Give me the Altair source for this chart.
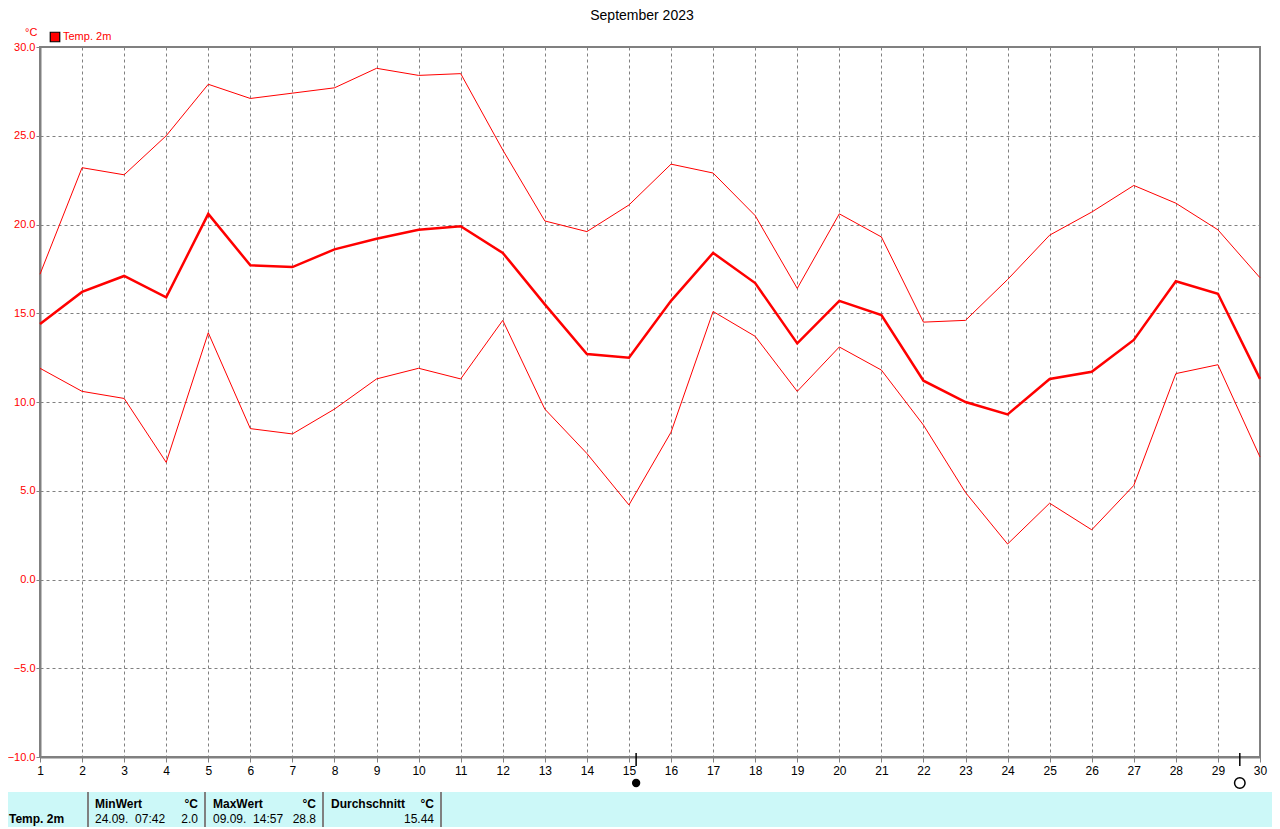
import altair as alt
import pandas as pd

days = list(range(1, 31))
t_max = [17.2, 23.2, 22.8, 25.0, 27.9, 27.1, 27.4, 27.7, 28.8, 28.4,
         28.5, 24.2, 20.2, 19.6, 21.1, 23.4, 22.9, 20.5, 16.4, 20.6,
         19.3, 14.5, 14.6, 16.9, 19.4, 20.7, 22.2, 21.2, 19.7, 17.0]
t_mean = [14.4, 16.2, 17.1, 15.9, 20.6, 17.7, 17.6, 18.6, 19.2, 19.7,
          19.9, 18.4, 15.5, 12.7, 12.5, 15.7, 18.4, 16.7, 13.3, 15.7,
          14.9, 11.2, 10.0, 9.3, 11.3, 11.7, 13.5, 16.8, 16.1, 11.3]
t_min = [11.9, 10.6, 10.2, 6.6, 13.9, 8.5, 8.2, 9.6, 11.3, 11.9,
         11.3, 14.6, 9.6, 7.1, 4.2, 8.3, 15.1, 13.7, 10.6, 13.1,
         11.8, 8.7, 4.9, 2.0, 4.3, 2.8, 5.3, 11.6, 12.1, 6.9]
moon_days = [15.17, 29.52]
moon_kind = ["new", "full"]

df = pd.DataFrame({"day": days, "tmax": t_max, "tmean": t_mean, "tmin": t_min})

FONT = "Liberation Sans"
GRAY = "#808080"

xs = alt.Scale(domain=[1, 30], nice=False, zero=False)
ys = alt.Scale(domain=[-10, 30], nice=False, zero=False)

xaxis = alt.Axis(values=days, format="d", title=None, labelColor="black",
                 labelFontSize=12, labelFont=FONT, tickColor=GRAY, tickSize=5,
                 labelPadding=3, domainColor=GRAY, domainWidth=2,
                 gridColor=GRAY, gridDash=[3, 3], gridWidth=1, labelFlush=False)
yaxis = alt.Axis(values=list(range(-10, 31, 5)), format=".1f", title=None,
                 labelColor="red", labelFontSize=11, labelFont=FONT, tickColor=GRAY,
                 tickSize=4, labelPadding=1, domainColor=GRAY, domainWidth=2,
                 gridColor=GRAY, gridDash=[3, 3], gridWidth=1)

base = alt.Chart(df)

def line(field, w):
    return base.mark_line(color="red", strokeWidth=w).encode(
        x=alt.X("day:Q", scale=xs, axis=xaxis),
        y=alt.Y(f"{field}:Q", scale=ys, axis=yaxis),
    )

lines = [line("tmax", 1), line("tmin", 1), line("tmean", 2.5)]

one = alt.Data(values=[{"a": 1}])

def txt(s, x, y, size=12, color="black", align="left", weight="normal"):
    return alt.Chart(one).mark_text(text=s, align=align, baseline="middle",
                                     fontSize=size, font=FONT, color=color,
                                     fontWeight=weight).encode(
        x=alt.value(x), y=alt.value(y))

def rect(x, x2, y, y2, fill):
    return alt.Chart(one).mark_rect(fill=fill).encode(
        x=alt.value(x), x2=alt.value(x2), y=alt.value(y), y2=alt.value(y2))

moon_df = pd.DataFrame({"day": moon_days, "kind": moon_kind})
moon_tick = alt.Chart(moon_df).mark_rule(color="black", strokeWidth=1.5).encode(
    x=alt.X("day:Q", scale=xs), y=alt.value(706), y2=alt.value(719))
moon_new = alt.Chart(moon_df).transform_filter("datum.kind == 'new'").mark_point(
    shape="circle", filled=True, color="black", size=70, opacity=1).encode(
    x=alt.X("day:Q", scale=xs), y=alt.value(736))
moon_full = alt.Chart(moon_df).transform_filter("datum.kind == 'full'").mark_point(
    shape="circle", filled=False, color="black", size=110, strokeWidth=1.5, opacity=1).encode(
    x=alt.X("day:Q", scale=xs), y=alt.value(736))

legend_sq = alt.Chart(one).mark_square(size=90, color="red", stroke="black",
                                       strokeWidth=1.2, opacity=1, fillOpacity=1).encode(
    x=alt.value(15), y=alt.value(-10))

R1, R2 = 757, 772
table = [
    rect(-32, 1240, 745, 782, "#CCF8F8"),
    rect(47, 49, 745, 782, GRAY),
    rect(164, 166, 745, 782, GRAY),
    rect(282, 284, 745, 782, GRAY),
    rect(400, 402, 745, 782, GRAY),
    txt("Temp. 2m", -31, R2, weight="bold"),
    txt("MinWert", 55, R1, weight="bold"),
    txt("°C", 158, R1, align="right", weight="bold"),
    txt("24.09.\u00a0 07:42", 55, R2),
    txt("2.0", 158, R2, align="right"),
    txt("MaxWert", 173, R1, weight="bold"),
    txt("°C", 276, R1, align="right", weight="bold"),
    txt("09.09.\u00a0 14:57", 173, R2),
    txt("28.8", 276, R2, align="right"),
    txt("Durchschnitt", 291, R1, weight="bold"),
    txt("°C", 394, R1, align="right", weight="bold"),
    txt("15.44", 394, R2, align="right"),
]

decor = [
    txt("September 2023", 602, -31, size=14, align="center"),
    txt("°C", -15, -14, size=11, color="red"),
    legend_sq,
    txt("Temp. 2m", 23, -10, size=11, color="red"),
    moon_tick, moon_new, moon_full,
]

chart = alt.layer(*lines, *decor, *table).properties(
    width=1220, height=710,
    padding={"left": 32, "top": 39, "right": 12, "bottom": 70},
    autosize=alt.AutoSizeParams(type="none"),
    background="white",
).configure_view(stroke=GRAY, strokeWidth=2)

chart.save("out.html", embed_options={"renderer": "svg", "actions": False})
